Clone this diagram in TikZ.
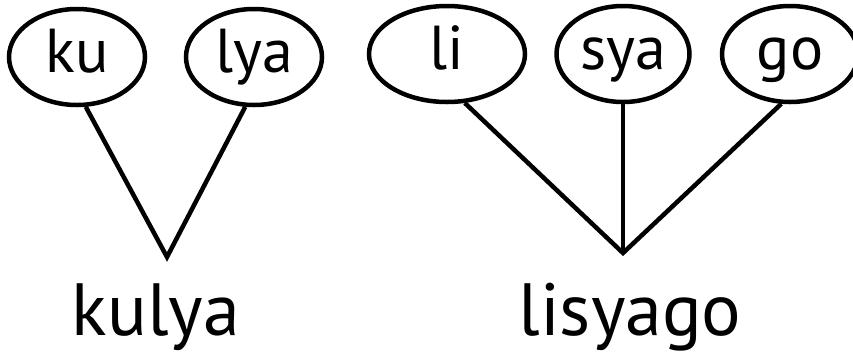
\documentclass[tikz,border=0pt]{standalone}
\usepackage{fontspec}
\setmainfont{PT Sans}
\usepackage{tikz}
\usetikzlibrary{shapes.geometric}
\usetikzlibrary{positioning}

\begin{document}
\begin{tikzpicture}[
x=1pt, y=-1pt,
syl/.style={ellipse, draw=black, line width=4.5pt, inner sep=0,
  minimum width=136pt, minimum height=96pt,
  font=\fontsize{62}{62}\selectfont, text height=46pt, text depth=16pt},
word/.style={anchor=base, inner sep=0, font=\fontsize{74}{74}\selectfont},
every path/.style={line width=4.5pt}
]
\useasboundingbox (0,0) rectangle (853,357);
\node [syl] (ku) at (77,57) {ku};
\node [syl] (lya) at (254,57) {lya};
\node [syl, minimum width=156pt] (li) at (447,54) {li};
\node [syl, minimum width=133pt] (sya) at (623,54) {sya};
\node [syl] (go) at (790,54) {go};
\coordinate (kulyaroot) at (167,257);
\coordinate (lisyagoroot) at (623,253);
\node [word] (kulya) at (156,335) {kulya};
\node [word] (lisyago) at (630,335) {lisyago};
\draw (ku.-80) -- (kulyaroot) -- (lya.-100);
\draw (li.-70) -- (lisyagoroot) -- (go.-100);
\draw (sya.south) -- (lisyagoroot);
\end{tikzpicture}
\end{document}
